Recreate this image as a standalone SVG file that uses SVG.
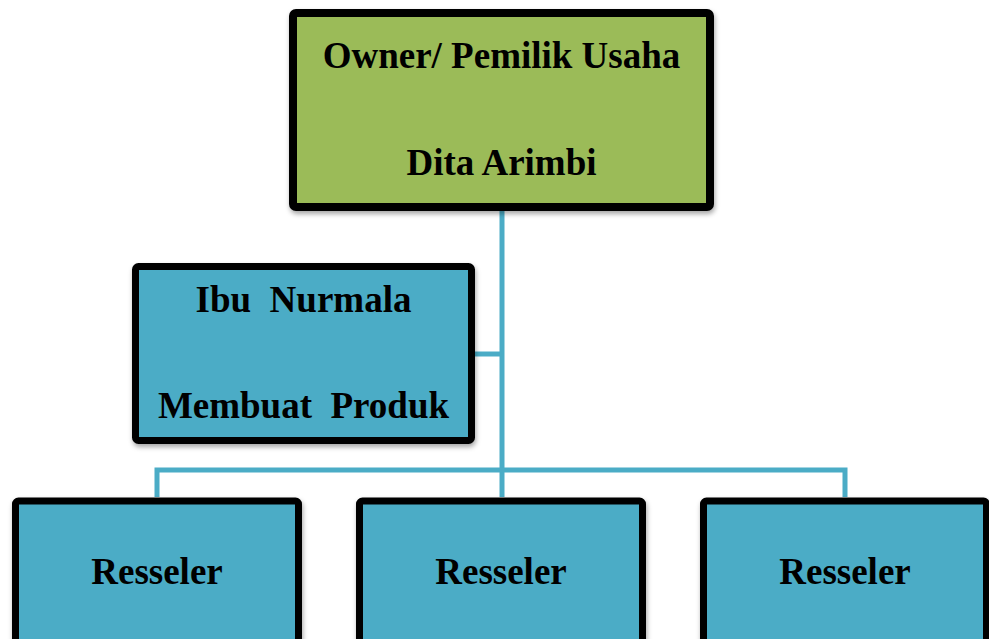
<svg xmlns="http://www.w3.org/2000/svg" width="989" height="639" viewBox="0 0 989 639">
<style>
.box{stroke:#000;stroke-width:8;stroke-linejoin:round;filter:url(#sh)}
.green{fill:#9BBB59}
.blue{fill:#4BACC6}
.lbl{font-family:"Liberation Serif","Times New Roman",serif;font-weight:bold;font-size:37px;fill:#000;text-anchor:middle;white-space:pre}
.conn{stroke:#4BACC6;stroke-width:5;fill:none}
</style>
<defs>
<filter id="sh" x="-10%" y="-10%" width="120%" height="130%">
<feDropShadow dx="1" dy="3" stdDeviation="2.5" flood-color="#000" flood-opacity="0.35"/>
</filter>
</defs>
<rect width="989" height="639" fill="#fff"/>
<g id="connectors">
<line class="conn" x1="502" y1="211" x2="502" y2="497"/>
<line class="conn" x1="474" y1="354" x2="502" y2="354"/>
<polyline class="conn" points="157,497 157,470 845,470 845,497"/>
</g>
<g id="owner">
<rect class="box green" x="293" y="13" width="417" height="194" rx="3"/>
<text class="lbl" x="501.5" y="68">Owner/ Pemilik Usaha</text>
<text class="lbl" x="501.5" y="175">Dita Arimbi</text>
</g>
<g id="nurmala">
<rect class="box blue" x="135.5" y="266.5" width="336" height="174" rx="3" style="stroke-width:7"/>
<text class="lbl" x="303.5" y="312" xml:space="preserve">Ibu  Nurmala</text>
<text class="lbl" x="303.5" y="418" xml:space="preserve">Membuat  Produk</text>
</g>
<g id="reseller1">
<rect class="box blue" x="15.5" y="501" width="283" height="160" rx="3" style="stroke-width:7"/>
<text class="lbl" x="157" y="584">Resseler</text>
</g>
<g id="reseller2">
<rect class="box blue" x="359.5" y="501" width="283" height="160" rx="3" style="stroke-width:7"/>
<text class="lbl" x="501" y="584">Resseler</text>
</g>
<g id="reseller3">
<rect class="box blue" x="703.5" y="501" width="283" height="160" rx="3" style="stroke-width:7"/>
<text class="lbl" x="845" y="584">Resseler</text>
</g>
</svg>
